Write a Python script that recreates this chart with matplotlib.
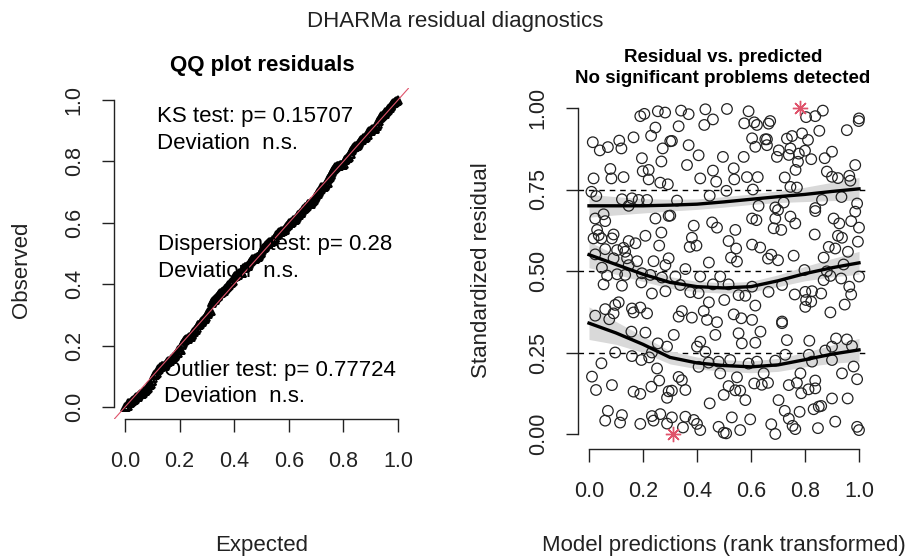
import numpy as np
import matplotlib
matplotlib.use("Agg")
import matplotlib.pyplot as plt

plt.rcParams['font.family'] = ['Liberation Sans', 'DejaVu Sans']

# ---------------- data ----------------
pred_x = [
 0.19,0.205,0.255,0.282,0.246,0.23,0.165,0.112,0.12,0.07,0.04,0.014,0.273,0.301,0.196,0.268,0.079,0.083,0.128,0.017,0.199,0.221,0.221,0.264,0.292,0.009,0.027,0.122,0.159,0.184,0.215,0.147,
 0.341,0.369,0.431,0.511,0.591,0.332,0.427,0.459,0.575,0.612,0.622,0.307,0.369,0.406,0.363,0.496,0.573,0.604,0.616,0.653,0.459,0.536,0.412,0.471,0.538,0.585,0.625,0.509,0.607,0.326,0.447,0.628,
 0.804,0.838,0.866,0.665,0.671,0.659,0.659,0.999,1.0,0.955,0.853,0.789,0.752,0.733,0.811,0.703,0.696,0.746,0.74,0.777,0.80,0.774,0.823,0.90,0.873,0.765,0.986,0.725,0.881,0.90,0.922,0.964,0.968,0.746,0.77,0.863,0.935,0.721,0.69,0.838,0.993,
 0.023,0.054,0.06,0.03,0.036,0.017,0.046,0.085,0.091,0.246,0.295,0.209,0.268,0.26,0.147,0.172,0.06,0.104,0.128,0.134,0.023,0.091,0.141,0.178,0.239,0.283,0.295,0.048,0.147,0.067,0.104,0.134,0.196,0.227,0.27,0.054,0.122,0.194,0.233,0.283,0.097,0.11,0.06,0.159,0.19,0.215,0.023,0.075,0.165,0.091,
 0.301,0.388,0.456,0.474,0.542,0.604,0.62,0.381,0.373,0.398,0.517,0.545,0.604,0.634,0.526,0.548,0.444,0.357,0.32,0.412,0.486,0.338,0.375,0.406,0.459,0.517,0.554,0.579,0.604,0.501,0.444,0.425,0.344,0.332,0.381,0.437,0.536,0.564,0.604,0.474,0.616,
 0.70,0.69,0.746,0.764,0.684,0.712,0.838,0.906,0.927,0.971,0.986,1.0,0.836,0.922,0.937,0.996,0.888,0.912,0.959,0.663,0.675,0.70,0.758,0.869,0.943,0.798,0.881,0.894,0.869,0.934,1.0,0.715,0.665,0.762,0.801,0.826,0.86,0.804,0.823,0.801,0.964,0.971,0.947,0.894,0.715,
 0.157,0.209,0.255,0.289,0.097,0.159,0.194,0.223,0.233,0.046,0.252,0.011,0.026,0.085,0.165,0.19,0.231,0.26,0.295,0.289,0.07,0.06,0.122,0.19,0.233,0.264,0.239,
 0.314,0.40,0.412,0.431,0.468,0.554,0.566,0.616,0.635,0.406,0.443,0.48,0.523,0.591,0.622,0.486,0.548,0.332,0.344,0.357,0.307,0.517,0.542,0.56,0.499,0.579,0.612,0.64,0.447,0.307,0.357,0.388,0.40,0.412,0.48,0.499,0.508,0.529,0.56,0.597,
 0.715,0.733,0.816,0.915,0.955,0.90,0.974,0.875,0.69,0.727,0.814,0.826,0.90,0.647,0.783,0.937,0.98,0.993,0.663,0.74,0.77,0.838,0.786,0.813,0.838,0.90,0.958,0.702,0.725,0.74,0.78,0.832,0.851,0.86,0.675,0.69,0.754,0.764,0.848,0.912,0.993,1.0,
 0.115,0.289,0.348,
]
resid_y = [
 0.975,0.982,0.99,0.986,0.94,0.915,0.91,0.90,0.876,0.88,0.87,0.895,0.876,0.898,0.846,0.836,0.813,0.784,0.788,0.784,0.806,0.81,0.781,0.771,0.766,0.743,0.73,0.72,0.723,0.718,0.718,0.70,
 0.992,0.981,0.996,0.997,0.99,0.944,0.948,0.965,0.953,0.956,0.948,0.899,0.886,0.855,0.825,0.85,0.85,0.907,0.881,0.904,0.808,0.815,0.784,0.774,0.781,0.788,0.788,0.746,0.75,0.716,0.731,0.70,
 0.972,0.975,0.992,0.952,0.96,0.904,0.886,0.96,0.968,0.932,0.93,0.922,0.914,0.906,0.902,0.87,0.85,0.876,0.856,0.86,0.869,0.835,0.843,0.866,0.846,0.81,0.825,0.787,0.805,0.789,0.785,0.792,0.777,0.758,0.756,0.718,0.727,0.71,0.695,0.693,0.707,
 0.661,0.674,0.653,0.626,0.61,0.60,0.60,0.60,0.612,0.661,0.669,0.608,0.618,0.578,0.592,0.585,0.567,0.564,0.571,0.559,0.551,0.539,0.539,0.53,0.53,0.518,0.539,0.51,0.518,0.486,0.49,0.488,0.493,0.488,0.48,0.459,0.455,0.465,0.431,0.438,0.396,0.404,0.383,0.385,0.388,0.37,0.363,0.352,0.373,0.37,
 0.67,0.639,0.649,0.633,0.626,0.661,0.656,0.602,0.574,0.578,0.592,0.569,0.581,0.572,0.541,0.529,0.526,0.506,0.483,0.483,0.483,0.457,0.435,0.432,0.459,0.459,0.426,0.424,0.452,0.411,0.404,0.377,0.377,0.36,0.357,0.35,0.367,0.355,0.35,0.343,0.394,
 0.687,0.661,0.667,0.646,0.631,0.626,0.684,0.661,0.646,0.653,0.682,0.633,0.612,0.608,0.602,0.59,0.574,0.569,0.559,0.538,0.55,0.533,0.547,0.541,0.52,0.503,0.499,0.485,0.472,0.477,0.483,0.457,0.436,0.428,0.436,0.438,0.431,0.411,0.406,0.39,0.452,0.428,0.397,0.373,0.345,
 0.314,0.311,0.278,0.268,0.25,0.239,0.227,0.235,0.25,0.217,0.201,0.176,0.135,0.15,0.13,0.123,0.145,0.164,0.131,0.111,0.071,0.041,0.058,0.031,0.055,0.061,0.041,
 0.304,0.268,0.283,0.252,0.304,0.309,0.278,0.28,0.314,0.206,0.219,0.222,0.227,0.216,0.222,0.186,0.174,0.175,0.165,0.135,0.133,0.147,0.134,0.133,0.12,0.104,0.155,0.151,0.094,0.051,0.053,0.043,0.031,0.012,0.022,0.004,0.002,0.051,0.012,0.045,
 0.34,0.288,0.286,0.293,0.29,0.268,0.27,0.256,0.225,0.243,0.243,0.222,0.227,0.186,0.186,0.186,0.207,0.168,0.157,0.15,0.157,0.164,0.125,0.137,0.14,0.109,0.109,0.104,0.071,0.047,0.068,0.076,0.084,0.086,0.03,0.0,0.025,0.015,0.018,0.038,0.022,0.012,
 0.035,0.032,0.02,
]
outlier_x = [0.783, 0.311]
outlier_y = [1.0, 0.0]

# quantile regression curves (0.25, 0.5, 0.75) and band half-widths
q_x   = [0.0, 0.1, 0.2, 0.3, 0.4, 0.5, 0.6, 0.7, 0.8, 0.9, 1.0]
q25_y = [0.34, 0.31, 0.275, 0.235, 0.218, 0.21, 0.206, 0.212, 0.228, 0.245, 0.258]
q50_y = [0.55, 0.52, 0.49, 0.465, 0.452, 0.448, 0.452, 0.47, 0.492, 0.51, 0.525]
q75_y = [0.70, 0.70, 0.70, 0.702, 0.705, 0.712, 0.72, 0.728, 0.735, 0.744, 0.752]
q25_hw = [0.05, 0.035, 0.025, 0.02, 0.018, 0.018, 0.018, 0.02, 0.022, 0.028, 0.035]
q50_hw = [0.04, 0.03, 0.022, 0.018, 0.016, 0.016, 0.016, 0.018, 0.022, 0.028, 0.035]
q75_hw = [0.035, 0.028, 0.022, 0.018, 0.016, 0.016, 0.016, 0.018, 0.022, 0.028, 0.035]
ref_lines = [0.25, 0.5, 0.75]

ticks_qq = [0.0, 0.2, 0.4, 0.6, 0.8, 1.0]
ticks_res_y = [0.0, 0.25, 0.5, 0.75, 1.0]

ks_text = "KS test: p= 0.15707\nDeviation  n.s."
disp_text = "Dispersion test: p= 0.28\nDeviation  n.s."
out_text = "Outlier test: p= 0.77724\nDeviation  n.s."

# ---------------- figure ----------------
W, H = 909, 558
fig = plt.figure(figsize=(W / 100, H / 100), dpi=100)

def px_axes(l, t, r, b):
    return fig.add_axes([l / W, 1 - b / H, (r - l) / W, (b - t) / H])

RED = '#DF536B'
TS = 15.5

def style_axes(ax):
    for s in ['top', 'right']:
        ax.spines[s].set_visible(False)
    for s in ['left', 'bottom']:
        ax.spines[s].set_bounds(0, 1)
        ax.spines[s].set_linewidth(1.0)
        ax.spines[s].set_color('#222222')
    ax.tick_params(direction='out', length=9, width=1.0, colors='#222222', labelsize=TS)
    ax.tick_params(axis='x', pad=14)
    ax.tick_params(axis='y', pad=12)
    for lab in ax.get_yticklabels():
        lab.set_rotation(90)
        lab.set_va('center')

# ---- left: QQ plot ----
ax1 = px_axes(114, 88, 409, 419)
obs = np.sort(np.array(resid_y + outlier_y))
n = len(obs)
expct = (np.arange(1, n + 1) - 0.5) / n
ax1.plot(expct, obs, ls='none', marker='^', mfc='none', mec='black', ms=6, mew=1.3)
ax1.axline((0, 0), (1, 1), color=RED, lw=0.8)
ax1.set_xlim(-11 / 273, 1 + 11 / 273)
ax1.set_ylim(-12 / 307, 1 + 12 / 307)
ax1.set_xticks(ticks_qq)
ax1.set_xticklabels([f"{t:.1f}" for t in ticks_qq])
ax1.set_yticks(ticks_qq)
ax1.set_yticklabels([f"{t:.1f}" for t in ticks_qq])
style_axes(ax1)
ax1.text(0.117, 0.902, ks_text, fontsize=16, va='center', ha='left', linespacing=1.35)
ax1.text(0.121, 0.486, disp_text, fontsize=16, va='center', ha='left', linespacing=1.35)
ax1.text(0.143, 0.077, out_text, fontsize=16, va='center', ha='left', linespacing=1.35)

# ---- right: residual vs predicted ----
ax2 = px_axes(578, 95, 870, 449)
for y in ref_lines:
    ax2.axhline(y, color='black', lw=1.0, ls=(0, (4, 3.5)), zorder=1)
for qy, hw in [(q25_y, q25_hw), (q50_y, q50_hw), (q75_y, q75_hw)]:
    qy = np.array(qy); hw = np.array(hw)
    ax2.fill_between(q_x, qy - hw, qy + hw, color='#d9d9d9', lw=0, zorder=2)
ax2.scatter(pred_x, resid_y, s=58, facecolors='none', edgecolors='#222222', linewidths=0.9, zorder=3)
for qy in [q25_y, q50_y, q75_y]:
    ax2.plot(q_x, qy, color='black', lw=2.4, zorder=4)
ax2.plot(outlier_x, outlier_y, ls='none', marker=(8, 2, 0), ms=11, mec=RED, mew=1.0, zorder=5)
ax2.set_xlim(-11 / 270, 1 + 11 / 270)
ax2.set_ylim(-15 / 326, 1 + 13 / 326)
ax2.set_xticks(ticks_qq)
ax2.set_xticklabels([f"{t:.1f}" for t in ticks_qq])
ax2.set_yticks(ticks_res_y)
ax2.set_yticklabels([f"{t:.2f}" for t in ticks_res_y])
style_axes(ax2)

# ---- titles / labels ----
fig.text(455 / W, 1 - 22 / H, "DHARMa residual diagnostics", fontsize=16, ha='center', va='center', color='#222222')
fig.text(262 / W, 1 - 66 / H, "QQ plot residuals", fontsize=16, fontweight='bold', ha='center', va='center')
fig.text(723 / W, 1 - 58 / H, "Residual vs. predicted", fontsize=13.5, fontweight='bold', ha='center', va='center')
fig.text(723 / W, 1 - 79 / H, "No significant problems detected", fontsize=13.5, fontweight='bold', ha='center', va='center')
fig.text(262 / W, 1 - 545 / H, "Expected", fontsize=16, ha='center', va='center', color='#222222')
fig.text(22 / W, 1 - 270 / H, "Observed", fontsize=16, ha='center', va='center', rotation=90, color='#222222')
fig.text(724 / W, 1 - 545 / H, "Model predictions (rank transformed)", fontsize=16, ha='center', va='center', color='#222222')
fig.text(481 / W, 1 - 270 / H, "Standardized residual", fontsize=16, ha='center', va='center', rotation=90, color='#222222')

fig.savefig("out.png", dpi=100)
